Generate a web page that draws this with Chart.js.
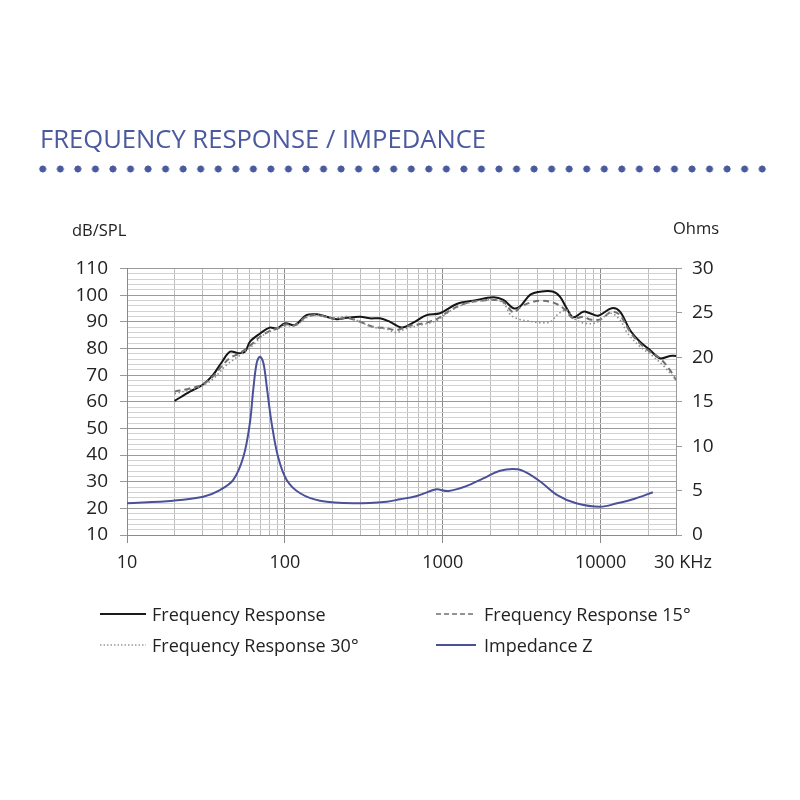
<!DOCTYPE html>
<html>
<head>
<meta charset="utf-8">
<script src="https://cdn.jsdelivr.net/npm/chart.js@4.4.0/dist/chart.umd.min.js"></script>
<style>
  body { margin: 0; background: #fff; font-family: "Open Sans", sans-serif; }
  #wrap { position: relative; width: 800px; height: 800px; overflow: hidden; }
  #chart { position: absolute; left: 0; top: 0; }
  .abs { position: absolute; white-space: nowrap; }
  #title { left: 40px; top: 122px; font-size: 25.6px; line-height: 34px; color: #4b5a9e; }
  #dots { left: 34px; top: 165px; width: 737px; height: 8px;
          background-image: radial-gradient(circle, #4b5a9e 3.2px, transparent 3.8px);
          background-size: 17.55px 8px; }
  .axt { font-size: 16.5px; color: #222; line-height: 20px; }
  .leg { font-size: 18px; color: #222; line-height: 24px; }
</style>
</head>
<body>
<div id="wrap">
  <canvas id="chart" width="800" height="800"></canvas>
  <div id="title" class="abs">FREQUENCY RESPONSE / IMPEDANCE</div>
  <div id="dots" class="abs"></div>
  <div class="abs axt" style="left:72px; top:220px;">dB/SPL</div>
  <div class="abs axt" style="left:673px; top:218px;">Ohms</div>

  <svg class="abs" style="left:0; top:0;" width="800" height="800">
    <line x1="100" y1="614" x2="146" y2="614" stroke="#1a1a1a" stroke-width="2"/>
    <line x1="436" y1="614" x2="476" y2="614" stroke="#707070" stroke-width="1.6" stroke-dasharray="5 3"/>
    <line x1="100" y1="645" x2="146" y2="645" stroke="#9a9a9a" stroke-width="1.4" stroke-dasharray="1.5 2"/>
    <line x1="436" y1="645" x2="476" y2="645" stroke="#4b5199" stroke-width="2"/>
  </svg>
  <div class="abs leg" style="left:152px; top:602px;">Frequency Response</div>
  <div class="abs leg" style="left:484px; top:602px;">Frequency Response 15°</div>
  <div class="abs leg" style="left:152px; top:633px;">Frequency Response 30°</div>
  <div class="abs leg" style="left:484px; top:633px;">Impedance Z</div>
</div>

<script>
// x axis (Hz)
const xTickValues = [10, 20, 30, 40, 50, 60, 70, 80, 90,
  100, 200, 300, 400, 500, 600, 700, 800, 900,
  1000, 2000, 3000, 4000, 5000, 6000, 7000, 8000, 9000,
  10000, 20000, 30000];
const xTickLabels = { 10: '10', 100: '100', 1000: '1000', 10000: '10000', 30000: '   30 KHz' };
const xMajor = [10, 100, 1000, 10000];

// on-axis response
const respFreq = [20, 25, 30, 35, 40, 45, 51, 56, 60, 70, 80, 89, 100, 116, 137, 159, 184, 213, 246, 300,
  346, 400, 463, 550, 650, 790, 960, 1225, 1560, 2090, 2420, 2800, 3080, 3570, 4130, 5020, 5520, 6090,
  6710, 7770, 8560, 9650, 11750, 13250, 15330, 17740, 20520, 23750, 27480, 30000];
const respDb = [60.3, 63.8, 66.3, 70, 75, 78.8, 78.2, 78.8, 82.5, 85.7, 87.8, 87.5, 89.4, 88.8, 92.5, 92.8, 91.9, 91, 91.5, 91.9,
  91.3, 91.3, 90, 87.9, 89.7, 92.5, 93.2, 96.7, 97.9, 99.2, 98.2, 95.1, 95.7, 100.1, 101.3, 101.3, 99.4, 95.1,
  91.7, 93.8, 93.2, 92.3, 95.1, 93.8, 86.9, 82.5, 79.4, 76.3, 77.2, 77.2];

// 15 degrees
const r15Freq = [20, 25, 30, 35, 40, 45, 51, 60, 70, 80, 90, 100, 116, 137, 159, 184, 213, 246, 300, 360,
  440, 510, 590, 750, 915, 1112, 1400, 1800, 2090, 2420, 2800, 3100, 3570, 4130, 5020, 5800, 6710, 7770,
  8560, 9960, 11750, 13250, 15330, 17740, 20520, 23750, 27480, 30000];
const r15Db = [63.8, 65, 66.5, 69.5, 73.5, 76.5, 78, 81, 84.5, 86.5, 87.5, 89, 88.8, 92, 92.5, 91.8, 91, 91.5, 90, 88.2,
  87.6, 86.9, 88.2, 89.4, 91, 94.3, 97, 98, 98.2, 97.5, 93.5, 95.5, 97.2, 97.9, 97.2, 95.1, 91.3, 91.9,
  90.9, 90.9, 93.8, 92.5, 86.3, 81.9, 78.8, 76.3, 71.9, 68.2];

// 30 degrees
const r30Freq = [20, 25, 30, 35, 42.7, 52, 63, 73, 84, 100, 116, 137, 159, 184, 213, 246, 300, 360, 440, 510,
  590, 750, 915, 1112, 1400, 1800, 2090, 2420, 2700, 3080, 3400, 4100, 4800, 5400, 6090, 6900, 8000, 9400,
  11500, 13250, 14800, 17740, 21000, 25000, 30000];
const r30Db = [63, 64.5, 66, 68.5, 73.8, 77.5, 81.3, 85, 86.9, 88.5, 88.5, 91.5, 92.5, 91.8, 91.5, 92, 90, 88, 87.3, 86,
  87.5, 89, 90.5, 94, 96.8, 98, 98.3, 97, 92.5, 90.9, 90.4, 89.7, 90, 93, 94.4, 90.9, 89.4, 89.7,
  93.2, 90.7, 85.7, 80.7, 77.5, 73.5, 68.2];

// impedance (ohms, right axis)
const impFreq = [10, 19.6, 30.4, 38.8, 47.1, 54.6, 60, 63, 66.2, 69.5, 73.2, 77, 82.4, 90.5, 102.6, 125, 167, 271,
  442, 536, 684, 871, 920, 1090, 1415, 1806, 2308, 2950, 3415, 4160, 5314, 7000, 9960, 12700, 16260, 21400];
const impOhm = [3.57, 3.86, 4.31, 5.06, 6.2, 8.8, 12.6, 16.3, 19.3, 20.07, 19.3, 16.5, 12.6, 8.8, 6.2, 4.7, 3.86, 3.57,
  3.75, 4.02, 4.39, 5.06, 5.14, 4.95, 5.51, 6.38, 7.24, 7.4, 7.0, 6.0, 4.5, 3.57, 3.18, 3.57, 4.05, 4.81];

const pts = (xs, ys) => xs.map((x, i) => ({ x: x, y: ys[i] }));

const lineBase = { pointRadius: 0, fill: false, tension: 0.35 };

new Chart(document.getElementById('chart'), {
  type: 'line',
  data: {
    datasets: [
      { ...lineBase, label: 'Frequency Response 30°', data: pts(r30Freq, r30Db),
        borderColor: '#8e8e8e', borderWidth: 1.6, borderDash: [1.5, 2.5], yAxisID: 'y' },
      { ...lineBase, label: 'Frequency Response 15°', data: pts(r15Freq, r15Db),
        borderColor: '#707070', borderWidth: 2, borderDash: [6, 4], yAxisID: 'y' },
      { ...lineBase, label: 'Frequency Response', data: pts(respFreq, respDb),
        borderColor: '#151515', borderWidth: 2, yAxisID: 'y' },
      { ...lineBase, label: 'Impedance Z', data: pts(impFreq, impOhm),
        borderColor: '#4b5199', borderWidth: 2, yAxisID: 'y1' }
    ]
  },
  options: {
    responsive: false,
    animation: false,
    layout: { padding: { left: 0, right: 64, top: 268.5, bottom: 225 } },
    plugins: { legend: { display: false }, tooltip: { enabled: false } },
    scales: {
      x: {
        type: 'logarithmic',
        min: 10,
        max: 30000,
        afterBuildTicks: (scale) => { scale.ticks = xTickValues.map(v => ({ value: v })); },
        afterFit: (scale) => { scale.height = 40; scale.paddingLeft = 0; scale.paddingRight = 0; },
        ticks: {
          autoSkip: false, maxRotation: 0, minRotation: 0, padding: 9,
          font: { family: 'Open Sans', size: 18 }, color: '#222',
          callback: (v) => xTickLabels[v] || ''
        },
        grid: {
          color: (c) => xMajor.includes(c.tick && c.tick.value) ? '#8a8a8a' : '#bdbdbd',
          tickColor: (c) => xMajor.includes(c.tick && c.tick.value) ? '#8a8a8a' : 'rgba(0,0,0,0)',
          tickLength: 8
        },
        border: { color: '#8a8a8a' }
      },
      y: {
        position: 'left',
        min: 10,
        max: 110,
        afterFit: (scale) => { scale.width = 127; scale.paddingTop = 0; scale.paddingBottom = 0; },
        ticks: {
          stepSize: 2, autoSkip: false, padding: 12,
          font: { family: 'Open Sans', size: 19 }, color: '#222',
          callback: (v) => (v % 10 === 0 ? v : '')
        },
        grid: {
          color: (c) => (c.tick && c.tick.value % 10 === 0) ? '#9a9a9a' : '#d2d2d2',
          tickColor: (c) => (c.tick && c.tick.value % 10 === 0) ? '#9a9a9a' : 'rgba(0,0,0,0)',
          tickLength: 7
        },
        border: { color: '#8a8a8a' }
      },
      y1: {
        position: 'right',
        min: 0,
        max: 30,
        afterFit: (scale) => { scale.width = 60; scale.paddingTop = 0; scale.paddingBottom = 0; },
        ticks: {
          stepSize: 5, padding: 10,
          font: { family: 'Open Sans', size: 19 }, color: '#222'
        },
        grid: { drawOnChartArea: false, color: '#9a9a9a', tickLength: 6 },
        border: { color: '#9a9a9a' }
      }
    }
  }
});
</script>
</body>
</html>
